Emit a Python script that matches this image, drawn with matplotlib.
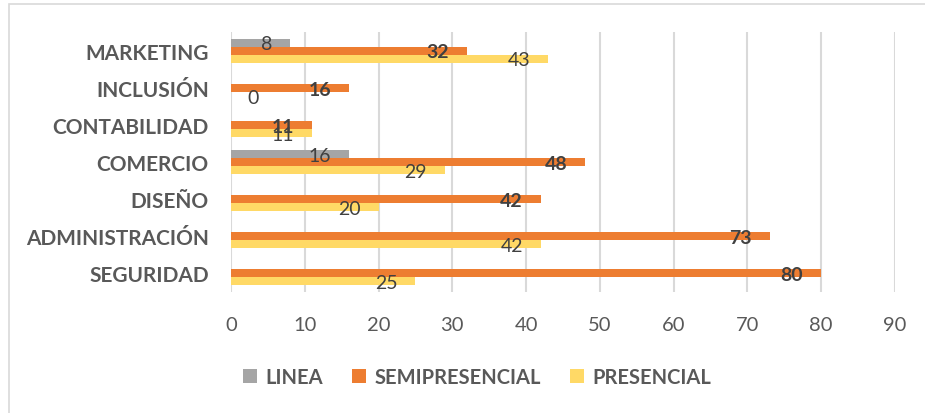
import numpy as np
import matplotlib
matplotlib.use("Agg")
import matplotlib.pyplot as plt
from matplotlib.patches import Rectangle, Patch

categories = ["SEGURIDAD", "ADMINISTRACIÓN", "DISEÑO", "COMERCIO",
              "CONTABILIDAD", "INCLUSIÓN", "MARKETING"]
linea = [np.nan, np.nan, np.nan, 16, np.nan, np.nan, 8]
semipresencial = [80, 73, 42, 48, 11, 16, 32]
presencial = [25, 42, 20, 29, 11, 0, 43]
series_names = ["LINEA", "SEMIPRESENCIAL", "PRESENCIAL"]
xticks = [0, 10, 20, 30, 40, 50, 60, 70, 80, 90]

colors = ["#A5A5A5", "#ED7D31", "#FFD966"]
text_col = "#595959"
label_col = "#404040"
FONT = "Lato"
plt.rcParams["font.family"] = [FONT, "DejaVu Sans"]

W, H = 925, 414
fig = plt.figure(figsize=(W / 100, H / 100), dpi=100)
ax = fig.add_axes([231 / W, 1 - 293 / H, (895 - 231) / W, (293 - 33) / H])

y = np.arange(len(categories))
h = 0.216
offsets = [h, 0, -h]
data = [linea, semipresencial, presencial]

for vals, off, col, name in zip(data, offsets, colors, series_names):
    v = np.array(vals, dtype=float)
    ax.barh(y + off, np.nan_to_num(v), height=h, color=col, label=name, zorder=3)
    bold = name == "SEMIPRESENCIAL"
    for yi, val in zip(y, v):
        if np.isnan(val):
            continue
        if val == 0:
            ax.annotate(f"{val:g}", (val, yi + off), xytext=(11.5, -1), textcoords="offset points",
                        ha="left", va="center", fontsize=14, color=label_col, zorder=5)
        else:
            ax.annotate(f"{val:g}", (val, yi + off), xytext=(-13, -1), textcoords="offset points",
                        ha="right", va="center", fontsize=14, color=label_col,
                        fontweight="bold" if bold else "normal", zorder=5)

ax.set_xlim(0, 90)
ax.set_ylim(-0.5, len(categories) - 0.5)
ax.set_xticks(xticks)
ax.set_xticklabels([str(t) for t in xticks])
ax.set_yticks(y)
ax.set_yticklabels(categories)
ax.tick_params(axis="x", length=0, pad=17, labelsize=14.5, labelcolor=text_col)
ax.tick_params(axis="y", length=0, pad=16, labelsize=15, labelcolor=text_col)
for lab in ax.get_yticklabels():
    lab.set_fontweight("bold")
ax.grid(axis="x", color="#D9D9D9", linewidth=1.5, zorder=0)
for s in ax.spines.values():
    s.set_visible(False)

handles = [Patch(facecolor=c, edgecolor="none") for c in colors]
leg = fig.legend(handles, series_names, loc="center", bbox_to_anchor=(477 / W, 1 - 378 / H),
                 ncol=3, frameon=False, fontsize=14.5, handlelength=0.7, handleheight=0.7,
                 handletextpad=0.4, columnspacing=1.45)
for t in leg.get_texts():
    t.set_color(text_col)
    t.set_fontweight("bold")

fig.patches.append(Rectangle((9 / W, -0.1), 1.2, 1.1 - 5 / H, transform=fig.transFigure,
                             fill=False, edgecolor="#D9D9D9", linewidth=1.2))

fig.savefig("out.png", dpi=100)
